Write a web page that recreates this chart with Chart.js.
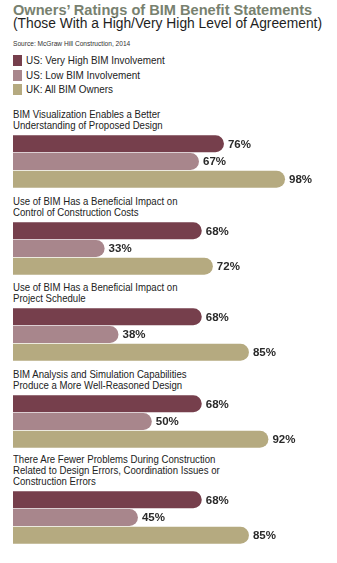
<!DOCTYPE html>
<html>
<head>
<meta charset="utf-8">
<script src="https://cdn.jsdelivr.net/npm/chart.js@4.4.1/dist/chart.umd.min.js"></script>
<style>
  html, body { margin: 0; padding: 0; background: #fff; }
  #page { position: relative; width: 337px; height: 563px; overflow: hidden; font-family: "Liberation Sans", Arial, sans-serif; }
  .abs { position: absolute; left: 13px; white-space: nowrap; }
  #title { top: 3px; font-size: 14.6px; line-height: 14px; font-weight: bold; color: #78816f; }
  #subtitle { top: 16.5px; font-size: 13.8px; line-height: 14px; color: #1e1e1e; }
  #source { top: 39.5px; font-size: 6.6px; line-height: 7px; color: #333; }
  .leg { font-size: 11px; line-height: 11px; color: #222; }
  .leg i { display: inline-block; width: 9px; height: 11px; vertical-align: -2px; margin-right: 4px; }
  .leg span { display: inline-block; transform: scaleX(0.9); transform-origin: left center; }
  .stmt { font-size: 10.8px; line-height: 11px; color: #222; transform: scaleX(0.89); transform-origin: left top; }
  canvas { position: absolute; left: 0; }
</style>
</head>
<body>
<div id="page">
  <div id="title" class="abs">Owners’ Ratings of BIM Benefit Statements</div>
  <div id="subtitle" class="abs">(Those With a High/Very High Level of Agreement)</div>
  <div id="source" class="abs">Source: McGraw Hill Construction, 2014</div>
</div>
<script>
const seriesNames = ['US: Very High BIM Involvement', 'US: Low BIM Involvement', 'UK: All BIM Owners'];
const seriesColors = ['#763f4c', '#a8868c', '#b5aa80'];

const statements = [
  ['BIM Visualization Enables a Better', 'Understanding of Proposed Design'],
  ['Use of BIM Has a Beneficial Impact on', 'Control of Construction Costs'],
  ['Use of BIM Has a Beneficial Impact on', 'Project Schedule'],
  ['BIM Analysis and Simulation Capabilities', 'Produce a More Well-Reasoned Design'],
  ['There Are Fewer Problems During Construction', 'Related to Design Errors, Coordination Issues or', 'Construction Errors'],
];
const usVeryHigh = [76, 68, 68, 68, 68];
const usLow = [67, 33, 38, 50, 45];
const ukAll = [98, 72, 85, 92, 85];

// layout
const barTops = [135, 221.5, 308, 395, 491];
const groupH = 53;
const legendTops = [55, 69.5, 84];

const page = document.getElementById('page');

seriesNames.forEach((name, i) => {
  const d = document.createElement('div');
  d.className = 'abs leg';
  d.style.top = legendTops[i] + 'px';
  d.innerHTML = `<i style="background:${seriesColors[i]}"></i><span>${name}</span>`;
  page.appendChild(d);
});

const valueLabels = {
  id: 'valueLabels',
  afterDatasetsDraw(chart) {
    const ctx = chart.ctx;
    ctx.save();
    ctx.font = 'bold 11.5px "Liberation Sans", Arial, sans-serif';
    ctx.fillStyle = '#2a2a2a';
    ctx.textBaseline = 'middle';
    const ds = chart.data.datasets[0];
    chart.getDatasetMeta(0).data.forEach((bar, i) => {
      ctx.fillText(ds.data[i] + '%', bar.x + 4, bar.y + 0.5);
    });
    ctx.restore();
  },
};

statements.forEach((lines, g) => {
  const lbl = document.createElement('div');
  lbl.className = 'abs stmt';
  lbl.style.top = (barTops[g] - 14.8 - (lines.length - 1) * 11) + 'px';
  lbl.innerHTML = lines.join('<br>');
  page.appendChild(lbl);

  const cv = document.createElement('canvas');
  cv.width = 337;
  cv.height = groupH;
  cv.style.top = barTops[g] + 'px';
  page.appendChild(cv);

  new Chart(cv, {
    type: 'bar',
    data: {
      labels: seriesNames,
      datasets: [{
        data: [usVeryHigh[g], usLow[g], ukAll[g]],
        backgroundColor: seriesColors,
        borderRadius: 9,
        borderSkipped: 'start',
        categoryPercentage: 1,
        barPercentage: 0.96,
      }],
    },
    options: {
      indexAxis: 'y',
      responsive: false,
      animation: false,
      layout: { padding: { left: 13, right: 46.4, top: 0, bottom: 0 } },
      plugins: { legend: { display: false }, tooltip: { enabled: false } },
      scales: {
        x: { min: 0, max: 100, display: false },
        y: { display: false },
      },
    },
    plugins: [valueLabels],
  });
});
</script>
</body>
</html>
